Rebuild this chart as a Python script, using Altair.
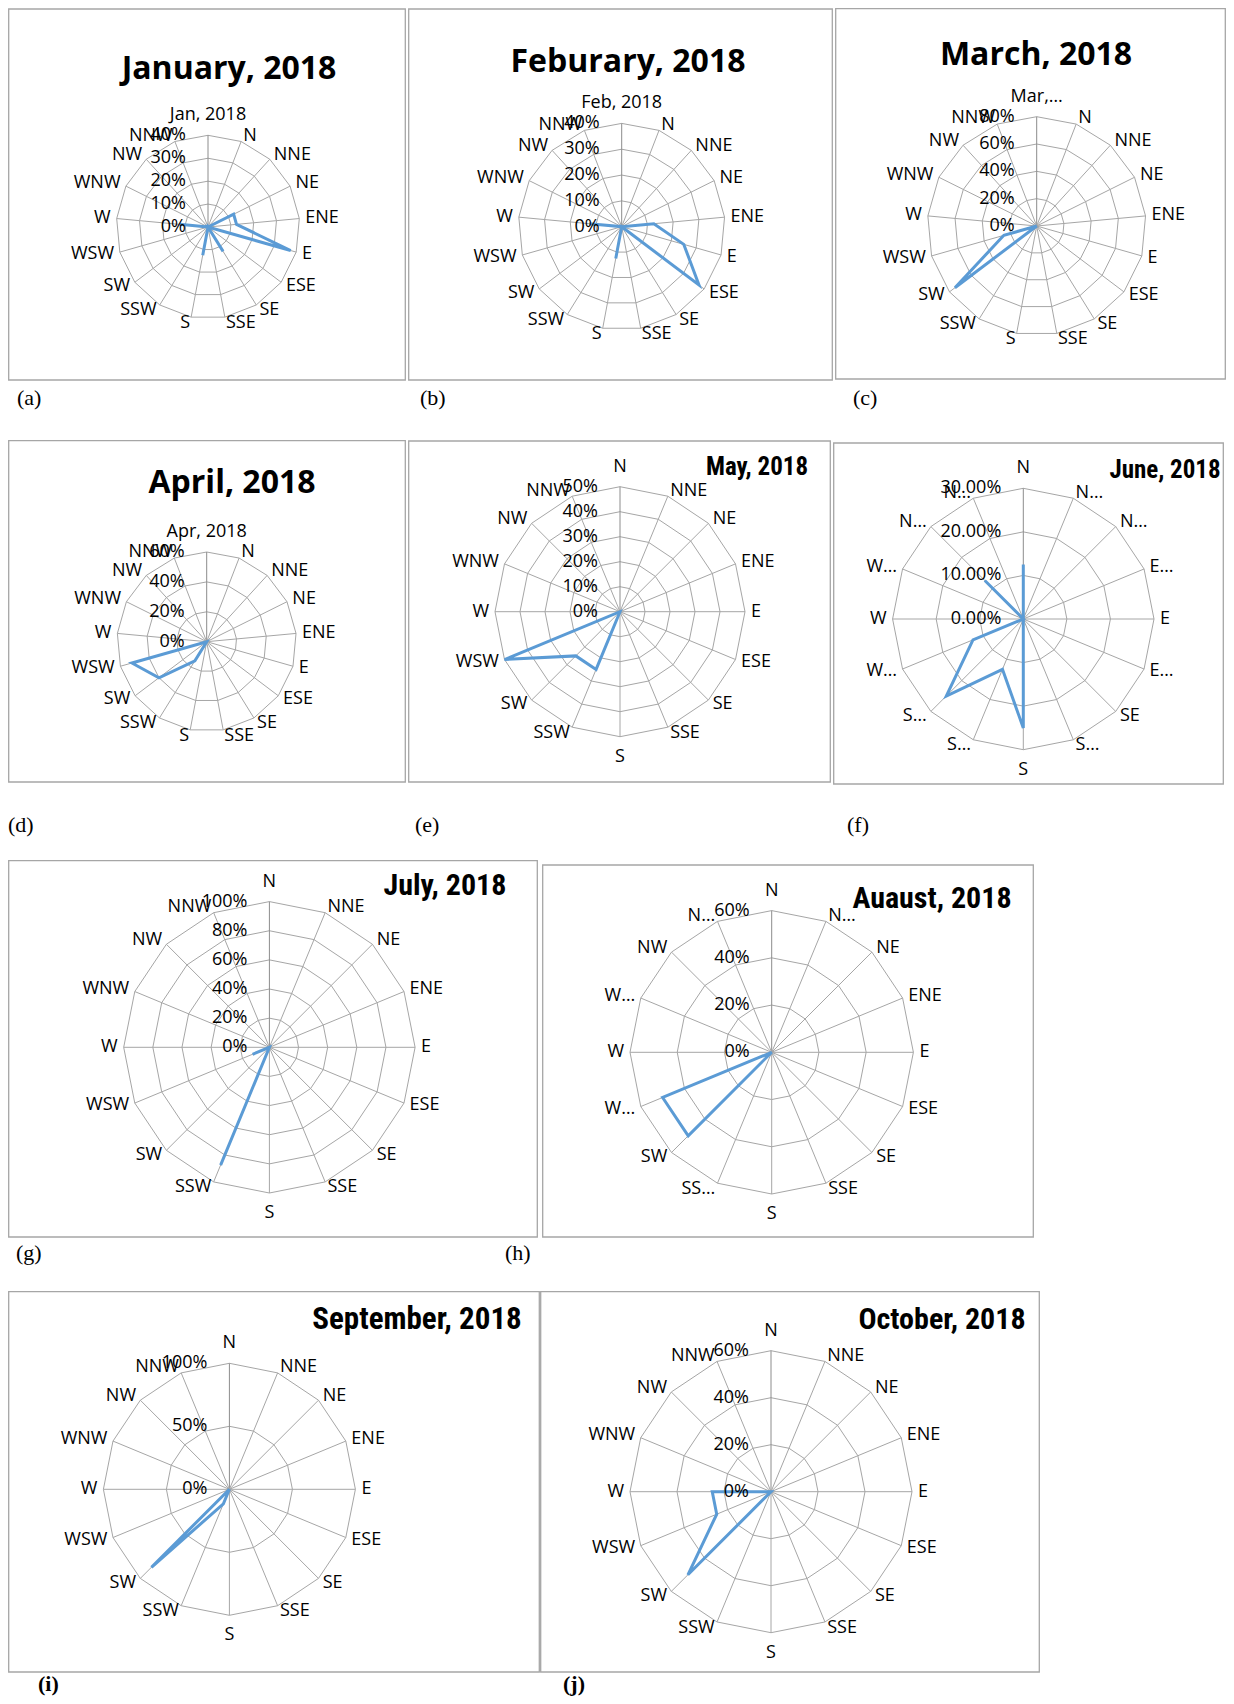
import altair as alt
import pandas as pd

# ---------------- data ----------------
DIRS = ["N", "NNE", "NE", "ENE", "E", "ESE", "SE", "SSE",
        "S", "SSW", "SW", "WSW", "W", "WNW", "NW", "NNW"]

jan_labels = ["Jan, 2018"] + DIRS
jan_values = [0, 0, 0, 12.5, 12.5, 37.5, 0, 12.5, 0, 12.5, 0, 0, 0, 12.5, 0, 0, 0]
jan_ticks = ["0%", "10%", "20%", "30%", "40%"]

feb_labels = ["Feb, 2018"] + DIRS
feb_values = [0, 0, 0, 0, 12.5, 25, 37.5, 0, 0, 12.5, 0, 0, 0, 12.5, 0, 0, 0]
feb_ticks = ["0%", "10%", "20%", "30%", "40%"]

mar_labels = ["Mar,…"] + DIRS
mar_values = [0, 0, 0, 0, 0, 0, 0, 0, 0, 0, 0, 75, 25, 0, 0, 0, 0]
mar_ticks = ["0%", "20%", "40%", "60%", "80%"]

apr_labels = ["Apr, 2018"] + DIRS
apr_values = [0, 0, 0, 0, 0, 0, 0, 0, 0, 0, 15, 40, 52, 0, 0, 0, 0]
apr_ticks = ["0%", "20%", "40%", "60%"]

may_labels = DIRS
may_values = [0, 0, 0, 0, 0, 0, 0, 0, 0, 25, 25, 50, 0, 0, 0, 0]
may_ticks = ["0%", "10%", "20%", "30%", "40%", "50%"]

jun_labels = ["N", "N…", "N…", "E…", "E", "E…", "SE", "S…",
              "S", "S…", "S…", "W…", "W", "W…", "N…", "N…"]
jun_values = [12.5, 0, 0, 0, 0, 0, 0, 0, 25, 12.5, 25, 12.5, 0, 0, 12.5, 0]
jun_ticks = ["0.00%", "10.00%", "20.00%", "30.00%"]

jul_labels = DIRS
jul_values = [0, 0, 0, 0, 0, 0, 0, 0, 0, 87.5, 0, 12.5, 0, 0, 0, 0]
jul_ticks = ["0%", "20%", "40%", "60%", "80%", "100%"]

aug_labels = ["N", "N…", "NE", "ENE", "E", "ESE", "SE", "SSE",
              "S", "SS…", "SW", "W…", "W", "W…", "NW", "N…"]
aug_values = [0, 0, 0, 0, 0, 0, 0, 0, 0, 0, 50, 50, 0, 0, 0, 0]
aug_ticks = ["0%", "20%", "40%", "60%"]

sep_labels = DIRS
sep_values = [0, 0, 0, 0, 0, 0, 0, 0, 0, 12.5, 87.5, 0, 0, 0, 0, 0]
sep_ticks = ["0%", "50%", "100%"]

oct_labels = DIRS
oct_values = [0, 0, 0, 0, 0, 0, 0, 0, 0, 0, 50, 25, 25, 0, 0, 0]
oct_ticks = ["0%", "20%", "40%", "60%"]

# ---------------- styling ----------------
BLUE = "#5B9BD5"
GRID = "#A6A6A6"
AXISC = "#8C8C8C"
FRAME = "#A6A6A6"
LFONT = "Open Sans"
LSIZE = 18
CAL_BOLD = "Open Sans"
NARROW = "Roboto Condensed, Liberation Sans Narrow, Roboto"
TAGFONT = "Liberation Serif, Times New Roman, serif"


def radar(labels, values, ticks, step, title, tfont, tsize, tx, ty,
          w, fy, fh, H, cx, cy, R, tags):
    """w: panel width, fy/fh: frame top/bottom, H: view height (frame + caption band)."""
    n = len(labels)
    vmax = step * (len(ticks) - 1)
    k = vmax / R  # data units per pixel
    xs = alt.Scale(domain=[-cx * k, (w - cx) * k], nice=False, zero=False)
    ys = alt.Scale(domain=[-(H - cy) * k, cy * k], nice=False, zero=False)
    X = lambda f: alt.X(f, type="quantitative", scale=xs, axis=None)
    Y = lambda f: alt.Y(f, type="quantitative", scale=ys, axis=None)
    ang = f"2*PI*datum.idx/{n}"

    cats = pd.DataFrame({"label": labels, "idx": list(range(n)), "value": values})
    base = (alt.Chart(cats)
            .transform_calculate(ang=ang)
            .transform_calculate(s="sin(datum.ang)")
            .transform_calculate(c="cos(datum.ang)"))

    frame = (alt.Chart(pd.DataFrame({"f": [0]}))
             .mark_rect(fill="transparent", stroke=FRAME, strokeWidth=1.3)
             .encode(x=alt.value(0.7), x2=alt.value(w - 0.7), y=alt.value(fy), y2=alt.value(fh)))

    levels = [step * (i + 1) for i in range(len(ticks) - 1)]
    ring_df = pd.DataFrame([{"ring": r, "idx": i} for r in levels for i in range(n)])
    rings = (alt.Chart(ring_df)
             .transform_calculate(ang=ang)
             .transform_calculate(x="datum.ring*sin(datum.ang)")
             .transform_calculate(y="datum.ring*cos(datum.ang)")
             .mark_line(interpolate="linear-closed", color=GRID, strokeWidth=1)
             .encode(x=X("x"), y=Y("y"), detail="ring:N", order="idx:Q"))

    spokes = (base
              .transform_calculate(z="0")
              .transform_calculate(xe=f"{vmax}*datum.s")
              .transform_calculate(ye=f"{vmax}*datum.c")
              .mark_rule(strokeWidth=1)
              .encode(x=X("z"), y=Y("z"), x2="xe:Q", y2="ye:Q",
                      color=alt.condition("datum.idx == 0", alt.value(AXISC), alt.value(GRID))))

    line = (base
            .transform_calculate(x="datum.value*datum.s")
            .transform_calculate(y="datum.value*datum.c")
            .mark_line(interpolate="linear-closed", color=BLUE, strokeWidth=3)
            .encode(x=X("x"), y=Y("y"), order="idx:Q"))

    gs = 6 * k
    gt = 11 * k
    lab = (base
           .transform_calculate(side="abs(datum.s) < 0.1 ? (datum.c > 0 ? 'top' : 'bottom') : (datum.s > 0 ? 'right' : 'left')")
           .transform_calculate(rr=f"abs(datum.s) < 0.1 ? {vmax + gt} : {vmax + gs}")
           .transform_calculate(x="datum.rr*datum.s")
           .transform_calculate(y="datum.rr*datum.c"))
    lab_layers = []
    for side, al, bl in [("right", "left", "middle"), ("left", "right", "middle"),
                         ("top", "center", "bottom"), ("bottom", "center", "top")]:
        lab_layers.append(
            lab.transform_filter(f"datum.side == '{side}'")
            .mark_text(align=al, baseline=bl, font=LFONT, fontSize=LSIZE, color="#000000")
            .encode(x=X("x"), y=Y("y"), text="label:N"))

    tick_df = pd.DataFrame({"t": ticks, "lv": [step * i for i in range(len(ticks))]})
    tk = (alt.Chart(tick_df)
          .transform_calculate(z="0")
          .mark_text(align="right", baseline="middle", dx=-22, font=LFONT,
                     fontSize=LSIZE, color="#000000")
          .encode(x=X("z"), y=Y("lv"), text="t:N"))

    tt = (alt.Chart(pd.DataFrame({"t": [title]}))
          .mark_text(font=tfont, fontSize=tsize, fontWeight="bold", align="center",
                     baseline="middle", color="#000000")
          .encode(text="t:N", x=alt.value(tx), y=alt.value(ty)))

    tag_layers = []
    for txt, gx, gy, bold in tags:
        tag_layers.append(
            alt.Chart(pd.DataFrame({"t": [txt]}))
            .mark_text(font=TAGFONT, fontSize=22, align="left", baseline="middle",
                       fontWeight="bold" if bold else "normal", color="#000000")
            .encode(text="t:N", x=alt.value(gx), y=alt.value(gy)))

    return alt.layer(frame, rings, spokes, line, *lab_layers, tk, tt, *tag_layers).properties(
        width=w, height=H)


# row heights (view = frame + caption band)
H1, H2, H3, H4 = 432, 420, 431, 405

a = radar(jan_labels, jan_values, jan_ticks, 10, "January, 2018", CAL_BOLD, 32, 221, 61,
          398, 1, 372, H1, 200, 219, 91.7, [("(a)", 9, 390, False)])
b = radar(feb_labels, feb_values, feb_ticks, 10, "Feburary, 2018", CAL_BOLD, 32, 220, 54,
          425, 1, 372, H1, 213.7, 218.7, 103.3, [("(b)", 12, 390, False)])
c = radar(mar_labels, mar_values, mar_ticks, 20, "March, 2018", CAL_BOLD, 32, 201, 47,
          391, 0.7, 371, H1, 201.7, 218, 109.3, [("(c)", 18, 390, False)])
d = radar(apr_labels, apr_values, apr_ticks, 20, "April, 2018", CAL_BOLD, 32, 224, 43,
          398, 0.7, 342, H2, 198.7, 201.7, 89.7, [("(d)", 0, 385, False)])
e = radar(may_labels, may_values, may_ticks, 10, "May, 2018", NARROW, 25, 349, 27,
          423, 1, 342, H2, 212, 171.7, 125, [("(e)", 7, 385, False)])
f = radar(jun_labels, jun_values, jun_ticks, 10, "June, 2018", NARROW, 25, 332, 30,
          391, 3, 344, H2, 190.3, 179, 130.7, [("(f)", 14, 385, False)])
g = radar(jul_labels, jul_values, jul_ticks, 20, "July, 2018", NARROW, 30, 437, 26,
          530, 0.7, 377, H3, 261.4, 187.3, 145.7, [("(g)", 8, 393, False), ("(h)", 497, 393, False)])
h = radar(aug_labels, aug_values, aug_ticks, 20, "Auaust, 2018", NARROW, 30, 390, 39,
          492, 5, 377, H3, 229.7, 192.3, 141.7, [])
i = radar(sep_labels, sep_values, sep_ticks, 50, "September, 2018", NARROW, 31, 409, 29,
          532, 0.7, 381, H4, 221.4, 198.3, 126, [("(i)", 30, 393, True)])
j = radar(oct_labels, oct_values, oct_ticks, 20, "October, 2018", NARROW, 30, 402, 29,
          500, 0.7, 381, H4, 231, 200.7, 141, [("(j)", 23, 393, True)])

row1 = alt.hconcat(a, b, c, spacing=2)
row2 = alt.hconcat(d, e, f, spacing=2)
row3 = alt.hconcat(g, h, spacing=4)
row4 = alt.hconcat(i, j, spacing=0)

chart = (alt.vconcat(row1, row2, row3, row4, spacing=0)
         .properties(padding=0, background="white")
         .configure_view(stroke=None))

chart.save("out.html", embed_options={"renderer": "svg", "actions": False})
